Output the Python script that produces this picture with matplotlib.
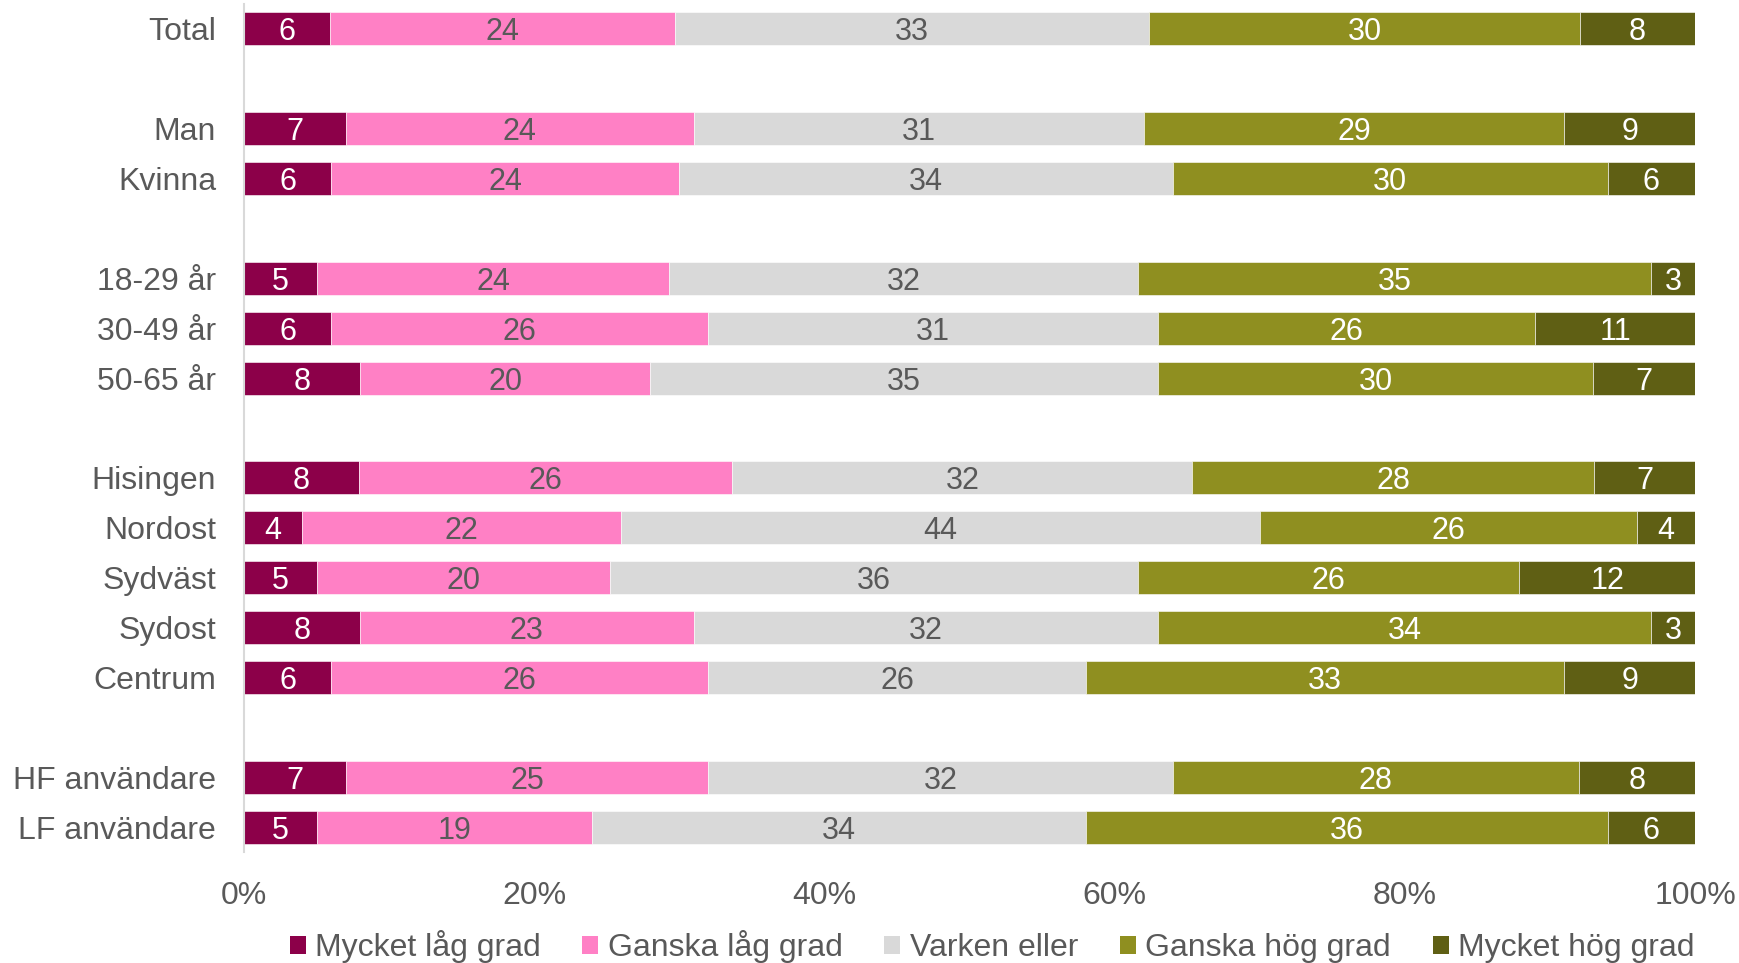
import matplotlib
matplotlib.use("Agg")
import matplotlib.pyplot as plt
import numpy as np
from matplotlib.patches import Patch

plt.rcParams['font.family'] = ['Liberation Sans', 'DejaVu Sans']

categories = ["Total", "", "Man", "Kvinna", "", "18-29 år", "30-49 år", "50-65 år", "",
              "Hisingen", "Nordost", "Sydväst", "Sydost", "Centrum", "", "HF användare", "LF användare"]
series_names = ["Mycket låg grad", "Ganska låg grad", "Varken eller", "Ganska hög grad", "Mycket hög grad"]
mycket_lag = [6, None, 7, 6, None, 5, 6, 8, None, 8, 4, 5, 8, 6, None, 7, 5]
ganska_lag = [24, None, 24, 24, None, 24, 26, 20, None, 26, 22, 20, 23, 26, None, 25, 19]
varken = [33, None, 31, 34, None, 32, 31, 35, None, 32, 44, 36, 32, 26, None, 32, 34]
ganska_hog = [30, None, 29, 30, None, 35, 26, 30, None, 28, 26, 26, 34, 33, None, 28, 36]
mycket_hog = [8, None, 9, 6, None, 3, 11, 7, None, 7, 4, 12, 3, 9, None, 8, 6]
xticklabels = ["0%", "20%", "40%", "60%", "80%", "100%"]

colors = ["#8C0049", "#FF80C5", "#D9D9D9", "#8F8F20", "#5F5F14"]
text_colors = ["white", "#595959", "#595959", "white", "white"]
gray = "#595959"

fig = plt.figure(figsize=(17.39, 9.63), dpi=100)
ax = fig.add_axes([0.1403, 0.115, 0.8344, 0.881])

series = [mycket_lag, ganska_lag, varken, ganska_hog, mycket_hog]
y = np.arange(len(categories))
for i, cat in enumerate(categories):
    if series[0][i] is None:
        continue
    vals = np.array([s[i] for s in series], dtype=float)
    total = vals.sum()
    left = 0.0
    for j, v in enumerate(vals):
        w = v / total
        ax.barh(i, w, left=left, height=0.66, color=colors[j], edgecolor='white', linewidth=0.4)
        ax.text(left + w / 2, i, f"{int(v)}", ha='center', va='center_baseline',
                fontsize=22, color=text_colors[j])
        left += w

ax.set_xlim(0, 1)
ax.set_ylim(len(categories) - 0.5, -0.5)
ax.set_yticks(y)
ax.set_yticklabels(categories, fontsize=23, color=gray)
for lbl in ax.get_yticklabels():
    lbl.set_verticalalignment('center_baseline')
ax.set_xticks(np.linspace(0, 1, 6))
ax.set_xticklabels(xticklabels, fontsize=23, color=gray)
ax.tick_params(axis='both', length=0)
ax.tick_params(axis='y', pad=20)
ax.tick_params(axis='x', pad=21)
for s in ['top', 'right', 'bottom']:
    ax.spines[s].set_visible(False)
ax.spines['left'].set_color('#D9D9D9')
ax.spines['left'].set_linewidth(1.5)

handles = [Patch(facecolor=c, edgecolor='none') for c in colors]
fig.legend(handles, series_names, loc='center', bbox_to_anchor=(0.5705, 0.017), ncol=5,
           frameon=False, fontsize=23, labelcolor=gray, handlelength=0.5, handleheight=0.5,
           handletextpad=0.3, columnspacing=1.3)

fig.savefig("out.png", dpi=100)
